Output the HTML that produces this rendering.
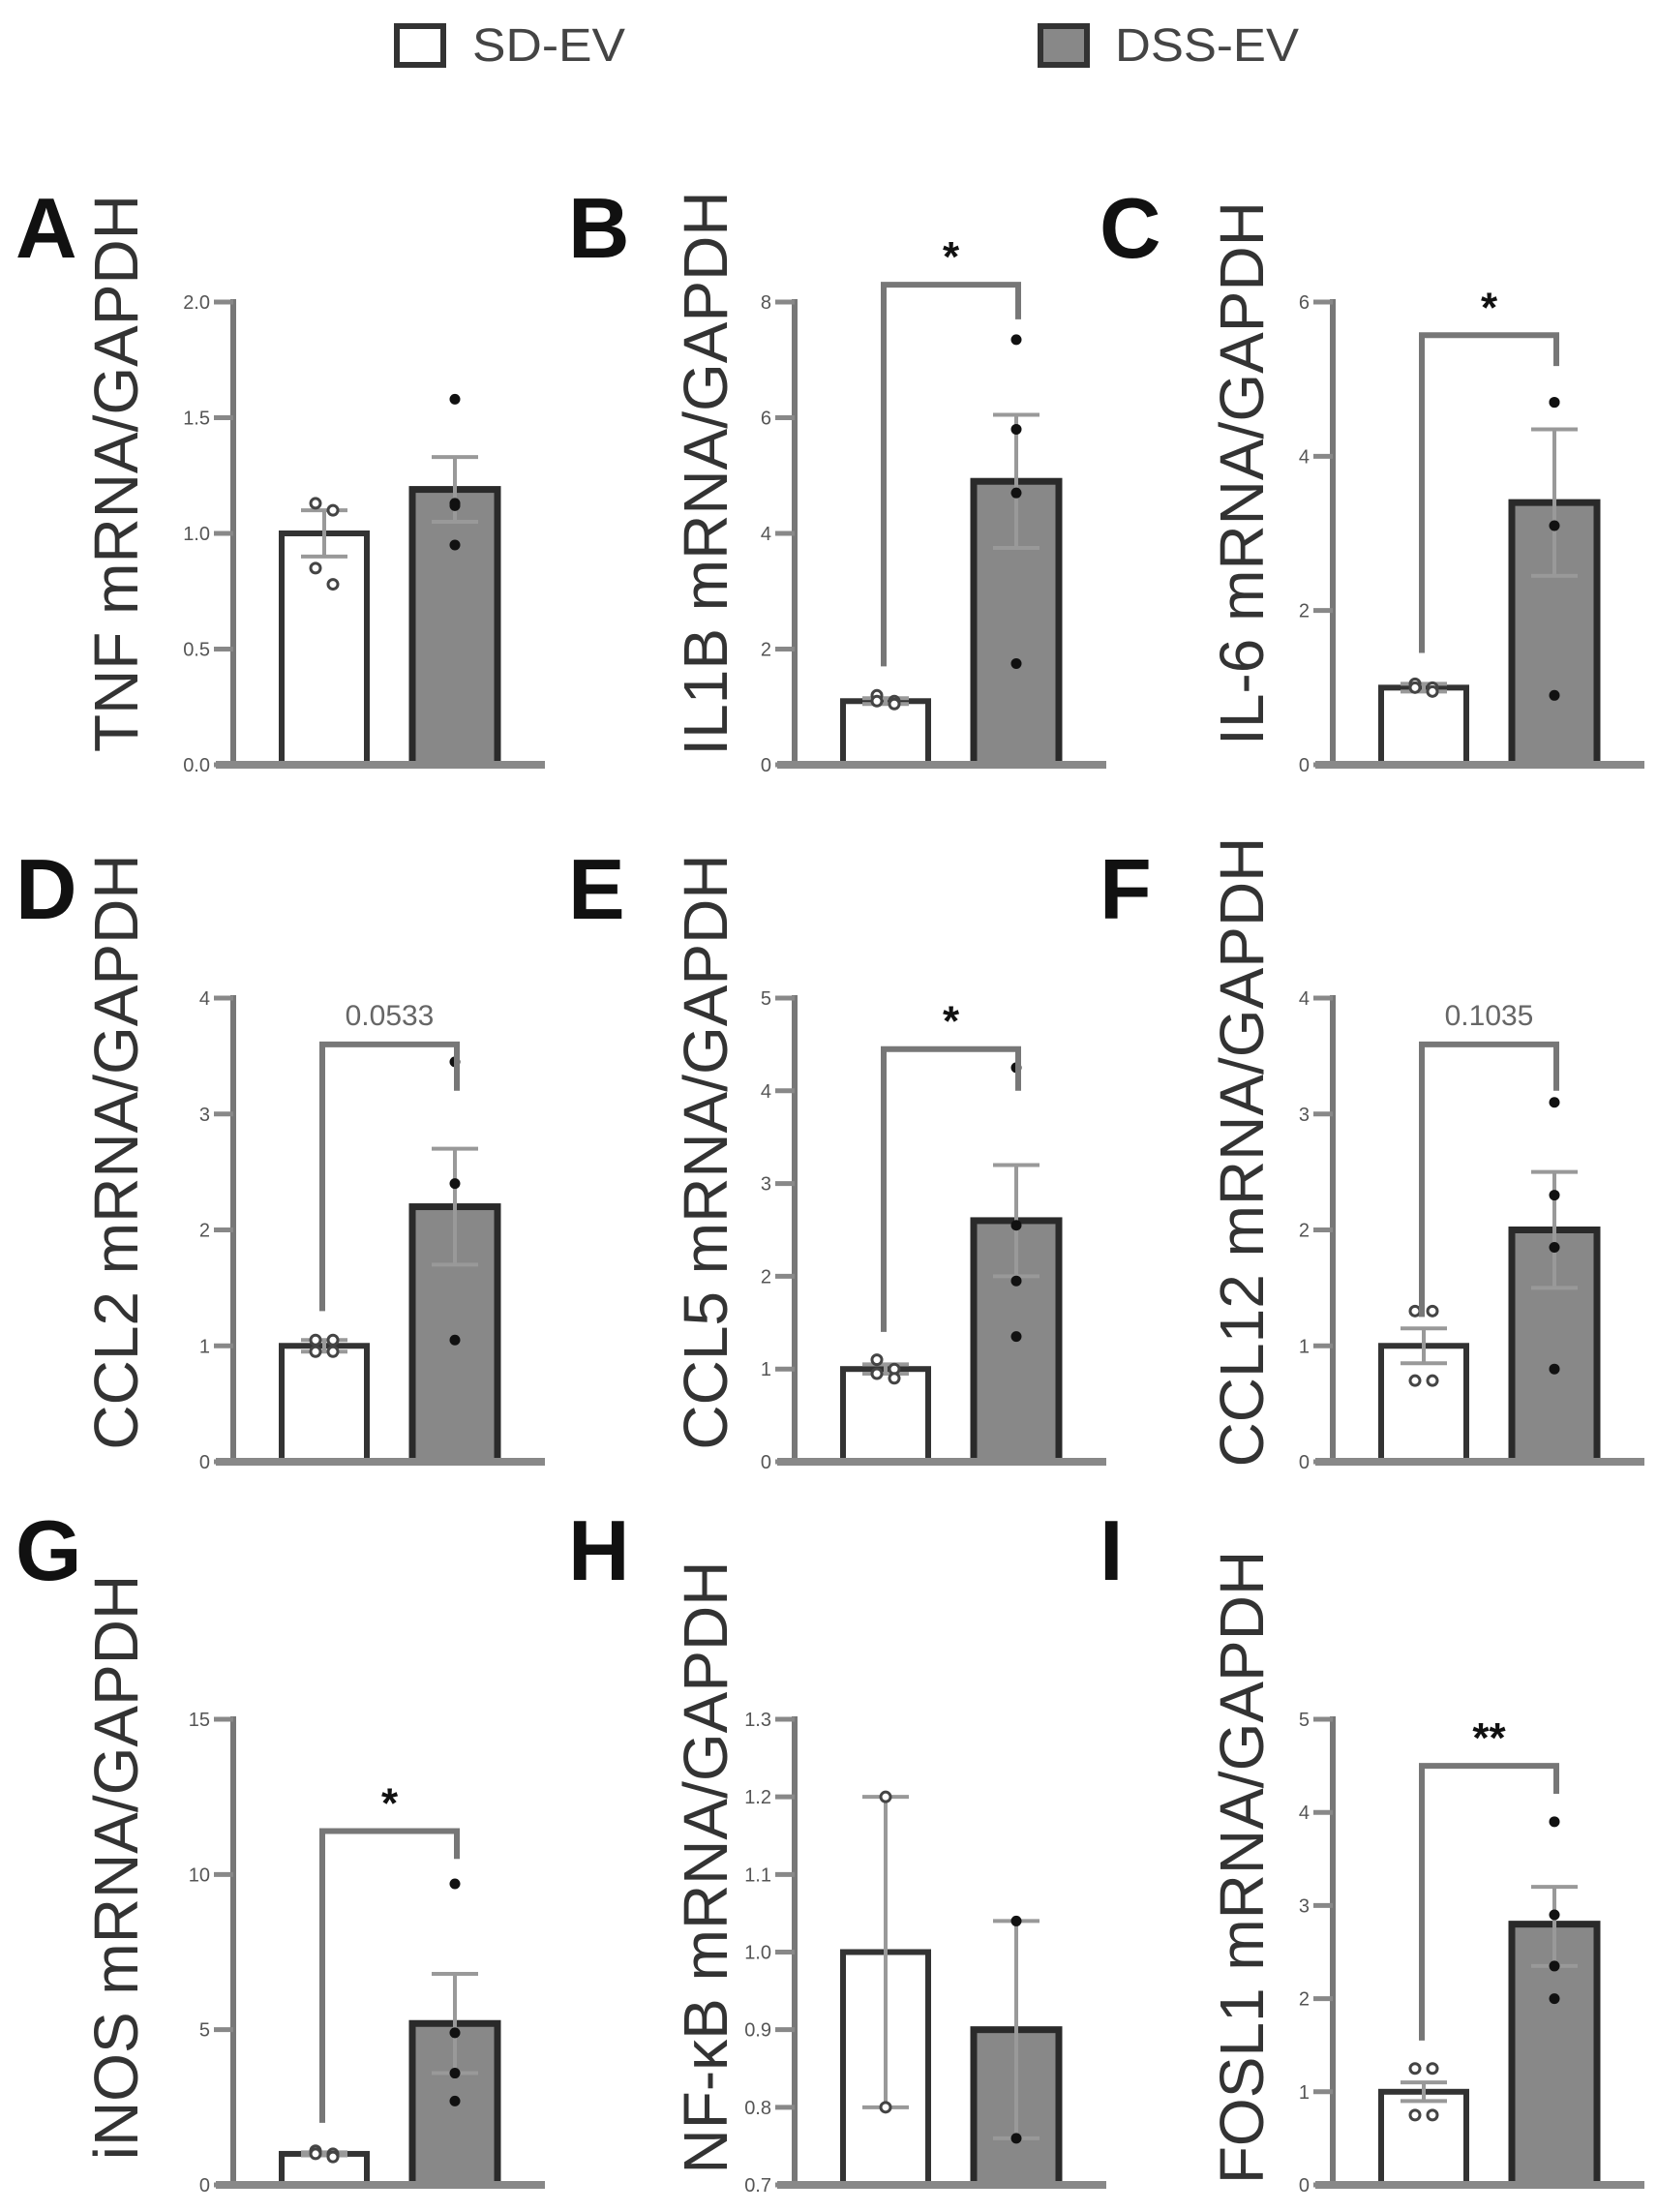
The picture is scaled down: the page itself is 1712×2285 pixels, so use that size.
<!DOCTYPE html>
<html><head><meta charset="utf-8">
<style>
html,body{margin:0;padding:0;background:#fff;}
svg{display:block;}
text{font-family:"Liberation Sans",sans-serif;}
</style></head>
<body>
<svg id="fig" width="1712" height="2285" viewBox="0 0 1712 2285" xmlns="http://www.w3.org/2000/svg">
  <g>
    <g>
      <rect x="410" y="27" width="48" height="40" fill="#fff" stroke="#333" stroke-width="6"/>
      <text x="488" y="63" font-size="48" fill="#444" textLength="158" lengthAdjust="spacingAndGlyphs">SD-EV</text>
    </g>
    <g>
      <rect x="1075" y="27" width="48" height="40" fill="#888" stroke="#333" stroke-width="6"/>
      <text x="1152" y="63" font-size="48" fill="#444" textLength="190" lengthAdjust="spacingAndGlyphs">DSS-EV</text>
    </g>
  </g>
</svg>
<script>
const panelLetters = ["A","B","C","D","E","F","G","H","I"];
const yTitles = ["TNF mRNA/GAPDH","IL1B mRNA/GAPDH","IL-6 mRNA/GAPDH","CCL2 mRNA/GAPDH","CCL5 mRNA/GAPDH","CCL12 mRNA/GAPDH","iNOS mRNA/GAPDH","NF-κB mRNA/GAPDH","FOSL1 mRNA/GAPDH"];
const yMin = [0,0,0,0,0,0,0,0.7,0];
const yMax = [2,8,6,4,5,4,15,1.3,5];
const tickStep = [0.5,2,2,1,1,1,5,0.1,1];
const tickDecimals = [1,0,0,0,0,0,0,1,0];
const sdMeans = [1.0,1.1,1.0,1.0,1.0,1.0,1.0,1.0,1.0];
const sdErrHi = [1.1,1.15,1.05,1.05,1.05,1.15,1.05,1.2,1.1];
const sdErrLo = [0.9,1.05,0.95,0.95,0.95,0.85,0.95,0.8,0.9];
const dssMeans = [1.19,4.9,3.4,2.2,2.6,2.0,5.2,0.9,2.8];
const dssErrHi = [1.33,6.05,4.35,2.7,3.2,2.5,6.8,1.04,3.2];
const dssErrLo = [1.05,3.75,2.45,1.7,2.0,1.5,3.6,0.76,2.35];
const sdPoints = [[1.13,1.1,0.85,0.78],[1.2,1.1,1.1,1.05],[1.05,1.0,1.0,0.95],[1.05,1.05,0.95,0.95],[1.1,1.0,0.95,0.9],[1.3,1.3,0.7,0.7],[1.1,1.0,1.0,0.9],[1.2,0.8],[1.25,1.25,0.75,0.75]];
const dssPoints = [[1.58,1.13,1.12,0.95],[7.35,5.8,4.7,1.75],[4.7,4.7,3.1,0.9],[3.45,2.4,1.05],[4.25,2.55,1.95,1.35],[3.1,2.3,1.85,0.8],[9.7,4.9,3.6,2.7],[1.04,0.76],[3.9,2.9,2.35,2.0]];
const sigLabels = ["","*","*","0.0533","*","0.1035","*","","**"];
const bracketTop = [0,8.3,5.57,3.6,4.45,3.6,11.4,0,4.5];
const bracketLeft = [0,1.7,1.45,1.3,1.4,1.25,2.0,0,1.55];
const bracketRight = [0,7.7,5.17,3.2,4.0,3.2,10.5,0,4.2];

const NS = "http://www.w3.org/2000/svg";
const svg = document.getElementById("fig");
const colAxisX = [241,821,1377];
const colLetterX = [16,587,1136];
const colTitleX = [118,727,1281];
const rowTop = [312,1031,1776];
const rowBase = [790,1510,2257];
const rowLetterY = [266,949,1632];
const rowTitleCY = [489,1190,1929];

function mk(tag, attrs, parent){
  const e = document.createElementNS(NS, tag);
  for (const k in attrs) e.setAttribute(k, attrs[k]);
  parent.appendChild(e);
  return e;
}

for (let i=0;i<9;i++){
  const c=i%3, r=Math.floor(i/3);
  const ax=colAxisX[c], top=rowTop[r], base=rowBase[r];
  const y = v => base - (v - yMin[i])/(yMax[i]-yMin[i])*(base-top);
  const g = mk("g",{},svg);
  
  

  const L = mk("text",{x:colLetterX[c],y:rowLetterY[r],"font-size":88,"font-weight":"bold",fill:"#111"},g);
  L.textContent = panelLetters[i];
  
  

  const T = mk("text",{x:0,y:0,"font-size":64,fill:"#333","text-anchor":"middle",transform:`translate(${colTitleX[c]+24},${rowTitleCY[r]}) rotate(-90)`},g);
  T.textContent = yTitles[i];
  
  

  const ya = mk("line",{x1:ax,y1:top-3,x2:ax,y2:base,stroke:"#777","stroke-width":6},g);
  
  
  const nT = Math.round((yMax[i]-yMin[i])/tickStep[i]);
  for (let k=0;k<=nT;k++){
    const v = yMin[i]+k*tickStep[i];
    mk("line",{x1:ax-20,y1:y(v),x2:ax,y2:y(v),stroke:"#888","stroke-width":5},g);
    const tl = mk("text",{x:ax-24,y:y(v)+7,"font-size":20,fill:"#555","text-anchor":"end"},g);
    tl.textContent = v.toFixed(tickDecimals[i]);
    
    
  }
  const bx1=ax+47, bx2=ax+182, bw=94;
  const b1 = mk("rect",{x:bx1+3,y:y(sdMeans[i]),width:bw-6,height:base-y(sdMeans[i]),fill:"#fff",stroke:"#333","stroke-width":6},g);
  
  
  const b2 = mk("rect",{x:bx2+3,y:y(dssMeans[i]),width:bw-6,height:base-y(dssMeans[i]),fill:"#888",stroke:"#2a2a2a","stroke-width":7},g);
  
  
  const xa = mk("line",{x1:ax-18,y1:base,x2:ax+322,y2:base,stroke:"#888","stroke-width":8},g);
  
  
  [[bx1,sdErrHi[i],sdErrLo[i],'error-bar-sd-ev'],[bx2,dssErrHi[i],dssErrLo[i],'error-bar-dss-ev']].forEach(([bx,hi,lo,nm])=>{
    const cx=bx+bw/2;
    const eg = mk("g",{stroke:"#999","stroke-width":4},g);
    
    
    mk("line",{x1:cx,y1:y(hi),x2:cx,y2:y(lo)},eg);
    mk("line",{x1:cx-24,y1:y(hi),x2:cx+24,y2:y(hi)},eg);
    mk("line",{x1:cx-24,y1:y(lo),x2:cx+24,y2:y(lo)},eg);
  });
  sdPoints[i].forEach((v,j)=>{
    const n=sdPoints[i].length;
    const cx = bx1+bw/2 + (n>2 ? (j%2===0?-9:9) : 0);
    const p = mk("circle",{cx:cx,cy:y(v),r:5,fill:"#fff",stroke:"#444","stroke-width":3},g);
    
    
  });
  dssPoints[i].forEach((v,j)=>{
    const p = mk("circle",{cx:bx2+bw/2,cy:y(v),r:5.5,fill:"#111"},g);
    
    
  });
  if (sigLabels[i]){
    const lx=bx1+bw/2-2, rx=bx2+bw/2+2;
    const br = mk("path",{d:`M${lx},${y(bracketLeft[i])} L${lx},${y(bracketTop[i])} L${rx},${y(bracketTop[i])} L${rx},${y(bracketRight[i])}`,fill:"none",stroke:"#777","stroke-width":6},g);
    
    
    const isNum = /\d/.test(sigLabels[i]);
    const st = mk("text",{x:(lx+rx)/2,y:y(bracketTop[i])-(isNum?20:14),"font-size":isNum?30:44,"font-weight":isNum?"normal":"bold",fill:isNum?"#666":"#111","text-anchor":"middle"},g);
    st.textContent = sigLabels[i];
    
    
  }
}
</script>
</body></html>
